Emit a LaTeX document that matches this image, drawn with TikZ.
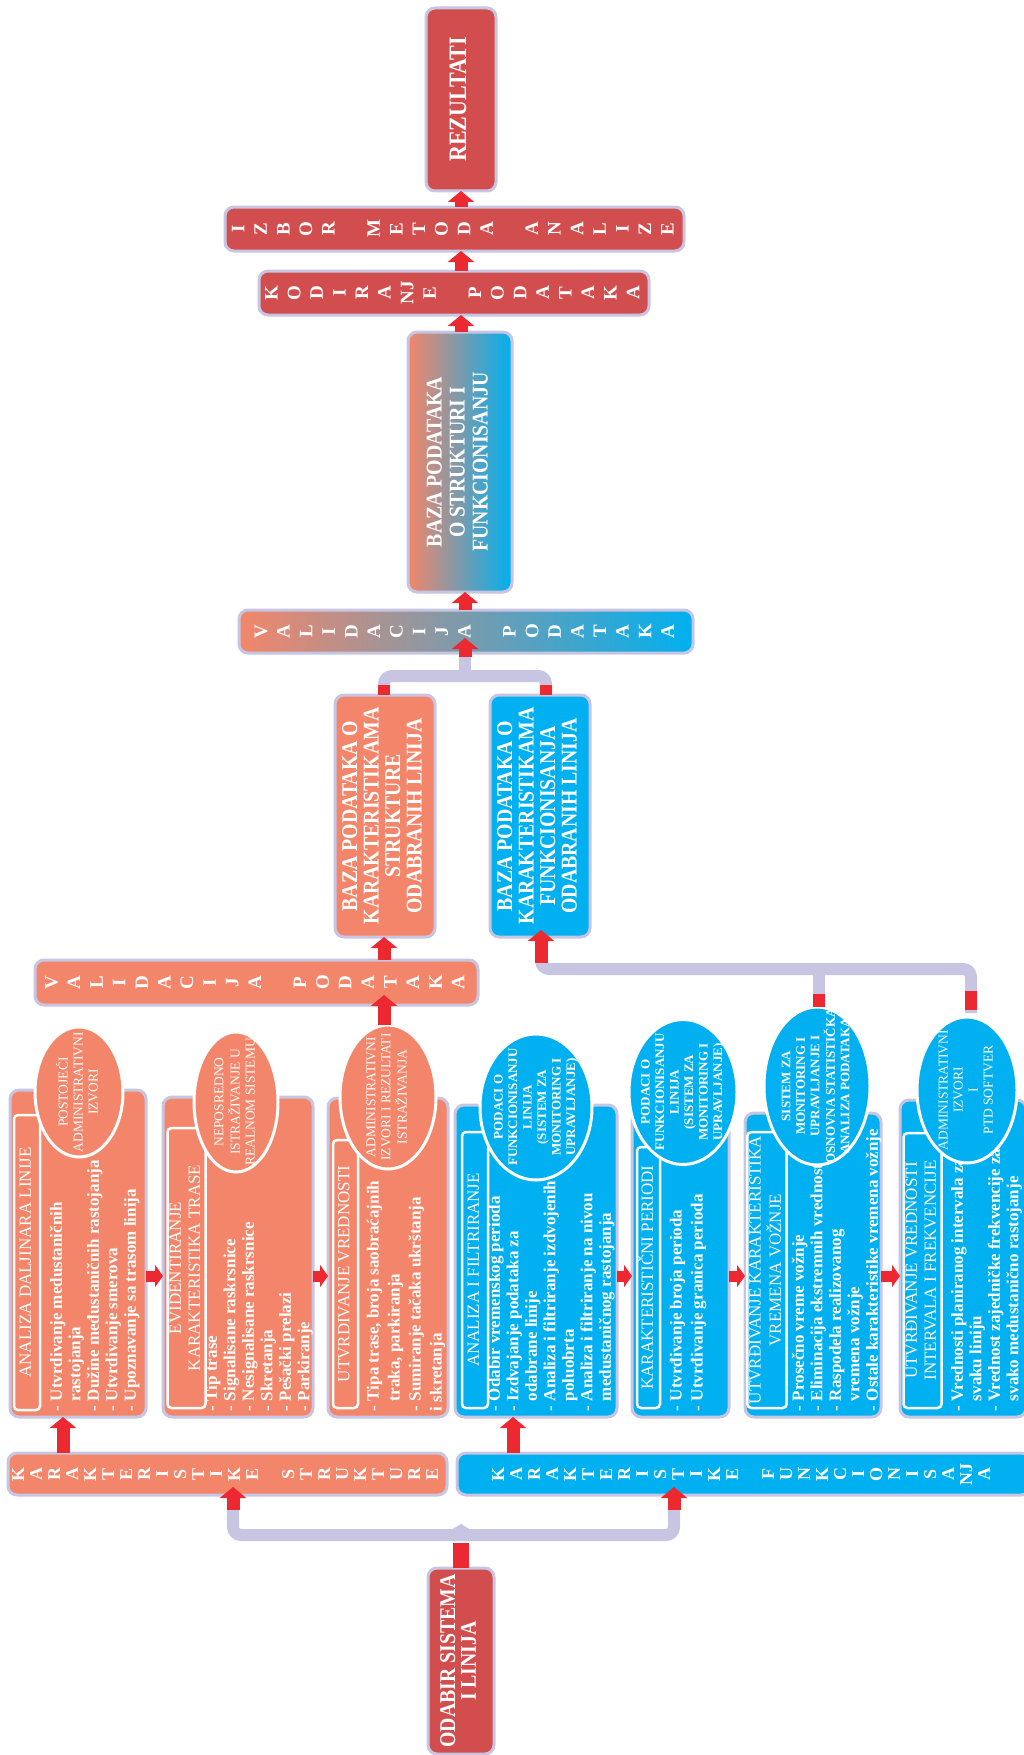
\documentclass[tikz,border=0pt]{standalone}
\usepackage{fontspec}
\setmainfont{Liberation Serif}
\newfontfamily\headfont[FakeStretch=0.88]{Liberation Serif}
\usepackage{graphicx}
\usetikzlibrary{arrows.meta,shapes.geometric,calc}

\definecolor{rd}{RGB}{210,78,78}
\definecolor{org}{RGB}{243,134,106}
\definecolor{blu}{RGB}{0,176,240}
\definecolor{lav}{RGB}{200,197,226}
\definecolor{arr}{RGB}{236,40,48}

% text turned a quarter turn, read from bottom to top
\newcommand\vtext[2][c]{\rotatebox{90}{\begin{tabular}{@{}#1@{}}#2\end{tabular}}}

\begin{document}
\begin{tikzpicture}[x=1pt,y=-1pt,
  every node/.style={inner sep=0pt, outer sep=0pt, text=white},
  sz/.style 2 args={minimum width=#1pt, minimum height=#2pt},
  frame/.style={draw=lav, line width=3pt, rounded corners=9pt},
  redbox/.style={frame, fill=rd},
  orgbox/.style={frame, fill=org},
  blubox/.style={frame, fill=blu},
  mixbox/.style={frame, left color=org, right color=blu},
  ttlbox/.style={draw=white, line width=2.5pt, rounded corners=4pt, font=\fontsize{17}{19}\selectfont},
  oval/.style={ellipse, draw=white, line width=3pt},
  ovtxt/.style={font=\fontsize{13.5}{15}\selectfont},
  ovtxtb/.style={font=\bfseries\fontsize{13}{14.5}\selectfont},
  bul/.style={anchor=south west, font=\bfseries\fontsize{17}{18.5}\selectfont},
  bulw/.style={anchor=south west, font=\bfseries\fontsize{17}{21}\selectfont},
  spaced/.style={font=\bfseries\fontsize{19}{22.6}\selectfont},
  spacedk/.style={font=\bfseries\fontsize{18}{18}\selectfont},
  head/.style={font=\headfont\bfseries\fontsize{#1}{#1}\selectfont},
  con/.style={draw=lav, line width=12pt, rounded corners=8pt},
  stub/.style={draw=arr, line width=12pt},
  bigarr/.style={draw=arr, line width=13pt, -{Triangle[width=26pt,length=11pt]}},
  sidearr/.style={draw=arr, line width=11pt, -{Triangle[width=22pt,length=8pt]}}
]
\useasboundingbox (0,0) rectangle (1024,1755);

% ---------- upper column ----------
\node[redbox, sz={70}{183}, head=25] (rez) at (461,99.5) {\vtext{REZULTATI}};
\node[redbox, sz={459}{44}, spaced] (izbor) at (454.5,229)
  {\vtext{I\\Z\\B\\O\\R\\ \\M\\E\\T\\O\\D\\A\\ \\A\\N\\A\\L\\I\\Z\\E}};
\node[redbox, sz={390}{44}, spaced] (kod) at (454,293)
  {\vtext{K\\O\\D\\I\\R\\A\\NJ\\E\\ \\P\\O\\D\\A\\T\\A\\K\\A}};
\node[mixbox, sz={104}{260}, font=\headfont\bfseries\fontsize{22.5}{23}\selectfont] (bazaG) at (460,462)
  {\vtext{BAZA PODATAKA\\O STRUKTURI I\\FUNKCIONISANJU}};
\node[mixbox, sz={454}{43}, spaced] (valG) at (466,631.5)
  {\vtext{V\\A\\L\\I\\D\\A\\C\\I\\J\\A\\ \\P\\O\\D\\A\\T\\A\\K\\A}};

% ---------- the two data bases ----------
\node[orgbox, sz={100}{242}, font=\headfont\bfseries\fontsize{22.5}{21.5}\selectfont] (bazaO) at (385,816)
  {\vtext{BAZA PODATAKA O\\KARAKTERISTIKAMA\\STRUKTURE\\ODABRANIH LINIJA}};
\node[blubox, sz={100}{242}, font=\headfont\bfseries\fontsize{22.5}{21.5}\selectfont] (bazaB) at (540,816)
  {\vtext{BAZA PODATAKA O\\KARAKTERISTIKAMA\\FUNKCIONISANJA\\ODABRANIH LINIJA}};
\node[orgbox, sz={443}{45}, spaced] (valO) at (256.5,982.5)
  {\vtext{V\\A\\L\\I\\D\\A\\C\\I\\J\\A\\ \\P\\O\\D\\A\\T\\A\\K\\A}};

% ---------- structure steps ----------
\node[orgbox, sz={136}{327}] (o1) at (78,1253.5) {};
\node[orgbox, sz={150}{320}] (o2) at (238,1257) {};
\node[orgbox, sz={120}{319}] (o3) at (388,1257.5) {};

\node[ttlbox, sz={26}{295}] (to1) at (27,1262.5) {\vtext{ANALIZA DALJINARA LINIJE}};
\node[ttlbox, sz={37}{280}] (to2) at (186.5,1268) {\vtext{EVIDENTIRANJE\\KARAKTERISTIKA TRASE}};
\node[ttlbox, sz={25}{268}] (to3) at (345.5,1274) {\vtext{UTVRDIVANJE VREDNOSTI}};

\node[bul] (lo1) at (49,1411) {\vtext[l]{- Utvrdivanje medustaničnih\\\hphantom{- }rastojanja\\- Dužine međustaničnih rastojanja\\- Utvrdivanje smerova\\- Upoznavanje sa trasom linija}};
\node[bul] (lo2) at (204,1411) {\vtext[l]{- Tip trase\\- Signalisane raskrsnice\\- Nesignalisane raskrsnice\\- Skretanja\\- Pešački prelazi\\- Parkiranje}};
\node[bulw] (lo3) at (364,1411) {\vtext[l]{- Tipa trase, broja saobraćajnih\\\hphantom{- }traka, parkiranja\\- Sumiranje tačaka ukrštanja\\i skretanja}};

% ---------- operation steps ----------
\node[blubox, sz={162}{312}] (b1) at (536,1261) {};
\node[blubox, sz={97}{307}] (b2) at (680.5,1263.5) {};
\node[blubox, sz={136}{304}] (b3) at (813,1265) {};
\node[blubox, sz={126}{317}] (b4) at (963,1258.5) {};

\node[ttlbox, sz={26}{276}] (tb1) at (475,1270) {\vtext{ANALIZA I FILTRIRANJE}};
\node[ttlbox, sz={23}{261}] (tb2) at (648.5,1277.5) {\vtext{KARAKTERISTIČNI PERIODI}};
\node[ttlbox, sz={36}{276}] (tb3) at (767,1270) {\vtext{UTVRĐIVANJE KARAKTERISTIKA\\VREMENA VOŽNJE}};
\node[ttlbox, sz={37}{275}] (tb4) at (922.5,1270.5) {\vtext{UTVRĐIVANJE VREDNOSTI\\INTERVALA I FREKVENCIJE}};

\node[bul] (lb1) at (487,1411) {\vtext[l]{- Odabir vremenskog perioda\\- Izdvajanje podataka za\\\hphantom{- }odabrane linije\\- Analiza i filtriranje izdvojenih\\\hphantom{- }poluobrta\\- Analiza i filtriranje na nivou\\\hphantom{- }medustaničnog rastojanja}};
\node[bulw] (lb2) at (667,1411) {\vtext[l]{- Utvrđivanje broja perioda\\- Utvrđivanje granica perioda}};
\node[bul] (lb3) at (791,1411) {\vtext[l]{- Prosečno vreme vožnje\\- Eliminacija ekstremnih vrednosti\\- Raspodela realizovanog\\\hphantom{- }vremena vožnje\\- Ostale karakteristike vremena vožnje}};
\node[bul] (lb4) at (950,1411) {\vtext[l]{- Vrednosti planiranog intervala za\\\hphantom{- }svaku liniju\\- Vrednost zajedničke frekvencije za\\\hphantom{- }svako medustanično rastojanje}};

% ---------- data sources ----------
\node[oval, fill=org, sz={88}{130}] (eo1) at (79,1092) {};
\node[oval, fill=org, sz={84}{140}] (eo2) at (236,1102) {};
\node[oval, fill=org, sz={96}{144}] (eo3) at (388,1097) {};
\node[oval, fill=blu, sz={112}{146}] (eb1) at (536,1107) {};
\node[oval, fill=blu, sz={108}{145}] (eb2) at (683,1092) {};
\node[oval, fill=blu, sz={106}{158}] (eb3) at (817,1086) {};
\node[oval, fill=blu, sz={100}{146}] (eb4) at (967,1090) {};

\node[ovtxt] (eo1t) at (eo1) {\vtext{POSTOJEĆI\\ADMINISTRATIVNI\\IZVORI}};
\node[ovtxt] (eo2t) at (eo2) {\vtext{NEPOSREDNO\\ISTRAŽIVANJE U\\REALNOM SISTEMU}};
\node[ovtxt] (eo3t) at (eo3) {\vtext{ADMINISTRATIVNI\\IZVORI I REZULTATI\\ISTRAŽIVANJA}};
\node[ovtxtb] (eb1t) at (eb1) {\vtext{PODACI O\\FUNKCIONISANJU\\LINIJA\\(SISTEM ZA\\MONITORING I\\UPRAVLJANJE)}};
\node[ovtxtb] (eb2t) at (eb2) {\vtext{PODACI O\\FUNKCIONISANJU\\LINIJA\\(SISTEM ZA\\MONITORING I\\UPRAVLJANJE)}};
\node[ovtxtb] (eb3t) at (eb3) {\vtext{SISTEM ZA\\MONITORING I\\UPRAVLJANJE I\\OSNOVNA STATISTIČKA\\ANALIZA PODATAKA}};
\node[ovtxt] (eb4t) at (eb4) {\vtext{ADMINISTRATIVNI\\IZVORI\\I\\PTD SOFTVER}};

% ---------- characteristic strips and start ----------
\node[orgbox, sz={439}{42}, spacedk] (ksO) at (227.5,1474)
  {\vtext{K\\A\\R\\A\\K\\T\\E\\R\\I\\S\\T\\I\\K\\E\\ \\S\\T\\R\\U\\K\\T\\U\\R\\E}};
\node[blubox, sz={573}{42}, spacedk] (ksB) at (743.5,1474)
  {\vtext{K\\A\\R\\A\\K\\T\\E\\R\\I\\S\\T\\I\\K\\E\\ \\F\\U\\N\\K\\C\\I\\O\\N\\I\\S\\A\\NJ\\A}};
\node[redbox, sz={66}{186}, font=\headfont\bfseries\fontsize{22.5}{20}\selectfont] (odabir) at (461,1661)
  {\vtext{ODABIR SISTEMA\\I LINIJA}};

% ---------- connectors ----------
\coordinate (mx) at (461,0);
\coordinate (tC) at (465,676);
\coordinate (tL) at (384,676);
\coordinate (tR) at (546,676);
\coordinate (vO) at (384,0);
\coordinate (cB) at (541,969);
\coordinate (c3) at (819,969);
\coordinate (c4) at (971,969);
\coordinate (aO1) at (63,0);
\coordinate (aB1) at (513,0);
\coordinate (hy) at (0,1276);
\coordinate (bL) at (233,1535);
\coordinate (bR) at (674,1535);
\coordinate (bC) at (461,1535);

% lavender brackets
\draw[con] (bazaO.north -| tL) -- (tL) -- (tR) -- (bazaB.north -| tR);
\draw[con] (tC) -- (valG.south -| tC);
\draw[con] ($(bazaB.south -| cB)+(0,20)$) -- (cB) -- (c4) -- ($(eb4.north -| c4)+(0,-4)$);
\draw[con] (c3) -- (eb3.north -| c3);
\draw[con] (bL |- ksO.south) -- (bL) -- (bR) -- (bR |- ksB.south);
\fill[lav] ($(bC)+(-10,-5)$) -- ($(bC)+(0,-11)$) -- ($(bC)+(10,-5)$) -- cycle;

% red stubs
\draw[stub] (bazaO.north -| tL) -- ++(0,-10);
\draw[stub] (bazaB.north -| tR) -- ++(0,-10);
\draw[stub] (eb3.north -| c3) -- ++(0,-13);
\draw[stub] ($(eb4.north -| c4)+(0,-7)$) -- ++(0,-19);
\draw[stub, line width=16pt] (odabir.north) -- ($(bC)+(0,8)$);

% red arrows
\draw[bigarr] (izbor.north -| mx) -- (rez.south -| mx);
\draw[bigarr] (kod.north -| mx) -- (izbor.south -| mx);
\draw[bigarr] (bazaG.north -| mx) -- (kod.south -| mx);
\draw[bigarr] (valG.north -| tC) -- (bazaG.south -| tC);
\draw[bigarr] ($(valG.south -| tC)+(0,4)$) -- ($(valG.south -| tC)+(0,-15)$);
\draw[bigarr] ($(bazaB.south -| cB)+(0,26)$) -- ($(bazaB.south -| cB)+(0,-7)$);
\draw[bigarr] (valO.north -| vO) -- (bazaO.south -| vO);
\draw[bigarr] (eo3.north -| vO) -- ($(valO.south -| vO)+(0,-10)$);
\draw[bigarr] ($(bL |- ksO.south)+(0,15)$) -- ($(bL |- ksO.south)+(0,-8)$);
\draw[bigarr] ($(bR |- ksB.south)+(0,15)$) -- ($(bR |- ksB.south)+(0,-8)$);
\draw[bigarr] (ksO.north -| aO1) -- (o1.south -| aO1);
\draw[bigarr] (ksB.north -| aB1) -- (b1.south -| aB1);

\draw[sidearr] (o1.east |- hy) -- (o2.west |- hy);
\draw[sidearr] (o2.east |- hy) -- (o3.west |- hy);
\draw[sidearr] (b1.east |- hy) -- (b2.west |- hy);
\draw[sidearr] (b2.east |- hy) -- (b3.west |- hy);
\draw[sidearr] (b3.east |- hy) -- (b4.west |- hy);
\end{tikzpicture}
\end{document}
